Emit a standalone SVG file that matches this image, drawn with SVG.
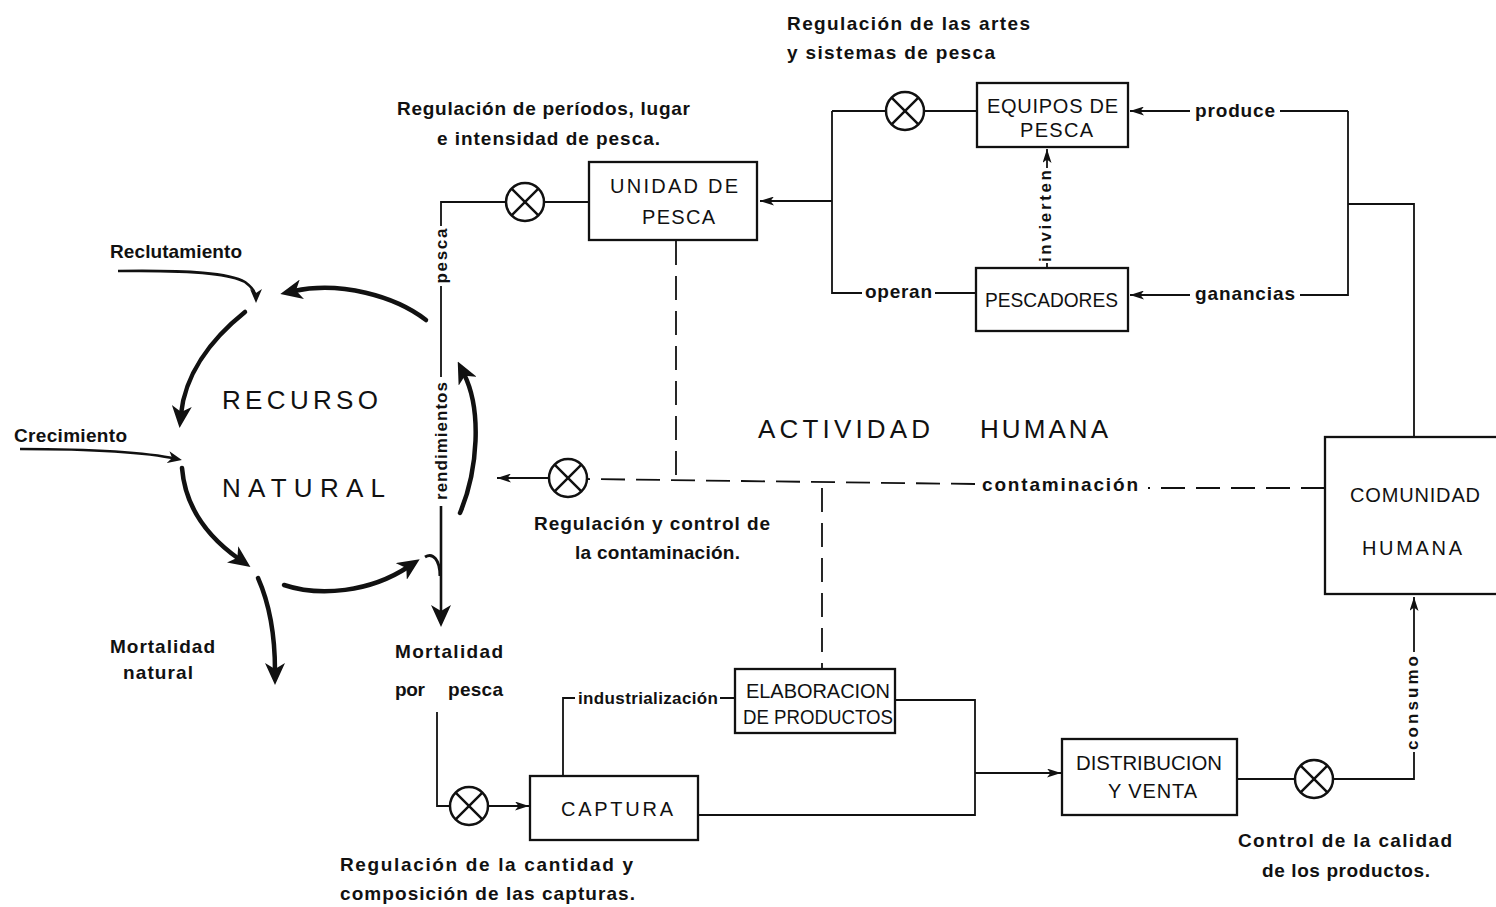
<svg xmlns="http://www.w3.org/2000/svg" width="1496" height="907" viewBox="0 0 1496 907">
  <style>
    .ln { fill: none; stroke: #111; stroke-width: 1.8; }
    .dash { fill: none; stroke: #111; stroke-width: 1.8; stroke-dasharray: 24 11; }
    .flow { fill: none; stroke: #111; stroke-width: 4.5; stroke-linecap: round; }
    .box { fill: #fff; stroke: #111; stroke-width: 2.3; }
    .lbl { font-family: "Liberation Sans", Arial, sans-serif; font-size: 19px; font-weight: bold; fill: #111; }
    .sm { font-family: "Liberation Sans", Arial, sans-serif; font-size: 17px; font-weight: bold; fill: #111; }
    .bt { font-family: "Liberation Sans", Arial, sans-serif; font-size: 20px; fill: #111; }
    .big { font-family: "Liberation Sans", Arial, sans-serif; font-size: 26px; fill: #111; }
  </style>
  <defs>
    <marker id="ah" viewBox="0 0 14 9" refX="14" refY="4.5" markerWidth="14" markerHeight="9" markerUnits="userSpaceOnUse" orient="auto">
      <path d="M0,0 L14,4.5 L0,9 L3.5,4.5 Z" fill="#111"/>
    </marker>
    <marker id="ahs" viewBox="0 0 14 12" refX="9" refY="6" markerWidth="14" markerHeight="12" markerUnits="userSpaceOnUse" orient="auto">
      <path d="M0,0 L14,6 L0,12 L4,6 Z" fill="#111"/>
    </marker>
    <marker id="big" viewBox="0 0 22 20" refX="8" refY="10" markerWidth="22" markerHeight="20" markerUnits="userSpaceOnUse" orient="auto">
      <path d="M0,0 L22,10 L0,20 L6,10 Z" fill="#111"/>
    </marker>
    <!-- regulation point: crossed circle -->
    <g id="mult">
      <circle r="19" fill="#fff" stroke="#111" stroke-width="2.5"/>
      <path d="M-13.4,-13.4 L13.4,13.4 M-13.4,13.4 L13.4,-13.4" stroke="#111" stroke-width="2.5"/>
    </g>
  </defs>

  <rect width="1496" height="907" fill="#fff"/>

  <!-- connectors -->
  <g id="connectors">
    <!-- fishing gear / fishermen loop -->
    <path class="ln" d="M832,111 L886,111 M924,111 L977,111"/>
    <path class="ln" d="M832,111 L832,293 L862,293 M935,293 L976,293"/>
    <path class="ln" d="M832,201 L760,201" marker-end="url(#ah)"/>
    <path class="ln" d="M1348,111 L1280,111"/>
    <path class="ln" d="M1190,111 L1130,111" marker-end="url(#ah)"/>
    <path class="ln" d="M1348,111 L1348,295 L1300,295"/>
    <path class="ln" d="M1190,295 L1130,295" marker-end="url(#ah)"/>
    <path class="ln" d="M1348,204 L1414,204 L1414,437"/>
    <path class="ln" d="M1047,268 L1047,263"/>
    <path class="ln" d="M1047,168 L1047,149" marker-end="url(#ah)"/>

    <!-- fishing unit to resource -->
    <path class="ln" d="M544,202 L589,202 M506,202 L441,202 L441,226"/>
    <path class="ln" d="M441,286 L441,377"/>
    <path class="ln" d="M441,506 L441,613" style="stroke-width:2.6" marker-end="url(#big)"/>
    <path class="ln" d="M425,557 C433,552 440,560 440,576" style="stroke-width:3"/>

    <!-- resource cycle -->
    <path class="flow" d="M426,320 C395,296 340,281 294,291" marker-end="url(#big)"/>
    <path class="flow" d="M245,312 C210,340 185,375 181,414" marker-end="url(#big)"/>
    <path class="flow" d="M182,468 C185,505 205,535 239,559" marker-end="url(#big)"/>
    <path class="flow" d="M284,585 C320,597 370,592 408,567" marker-end="url(#big)"/>
    <path class="flow" d="M258,578 C270,605 275,640 275,671" marker-end="url(#big)"/>
    <path class="flow" d="M460,513 C478,470 482,410 464,374" marker-end="url(#big)"/>
    <path class="ln" d="M118,271 C190,270 230,273 245,282 C253,288 256,294 256,298" style="stroke-width:2.6" marker-end="url(#ahs)"/>
    <path class="ln" d="M20,449 C90,449 145,452 177,459" style="stroke-width:2.6" marker-end="url(#ahs)"/>

    <!-- pollution -->
    <path class="dash" d="M1325,488 L1148,488"/>
    <path class="dash" d="M975,484 L587,479"/>
    <path class="ln" d="M549,478 L497,478" marker-end="url(#ah)"/>
    <path class="dash" d="M676,241 L676,479"/>
    <path class="dash" d="M822,488 L822,668"/>

    <!-- catch, processing, sale, consumption -->
    <path class="ln" d="M437,712 L437,806 L450,806"/>
    <path class="ln" d="M488,806 L529,806" marker-end="url(#ah)"/>
    <path class="ln" d="M563,776 L563,698 L575,698 M720,698 L735,698"/>
    <path class="ln" d="M895,700 L975,700 L975,815 L698,815"/>
    <path class="ln" d="M975,773 L1061,773" marker-end="url(#ah)"/>
    <path class="ln" d="M1237,779 L1295,779 M1333,779 L1414,779 L1414,752"/>
    <path class="ln" d="M1414,652 L1414,597" marker-end="url(#ah)"/>
  </g>

  <!-- regulation points -->
  <use href="#mult" x="905" y="111"/>
  <use href="#mult" x="525" y="202"/>
  <use href="#mult" x="568" y="478"/>
  <use href="#mult" x="469" y="806"/>
  <use href="#mult" x="1314" y="779"/>

  <!-- nodes -->
  <g id="unidad-pesca">
    <rect class="box" x="589" y="162" width="168" height="78"/>
    <text class="bt" x="610" y="193" textLength="128" lengthAdjust="spacing">UNIDAD DE</text>
    <text class="bt" x="642" y="224" textLength="73" lengthAdjust="spacing">PESCA</text>
  </g>
  <g id="equipos-pesca">
    <rect class="box" x="977" y="83" width="151" height="64"/>
    <text class="bt" x="987" y="113" textLength="131" lengthAdjust="spacing">EQUIPOS DE</text>
    <text class="bt" x="1020" y="137" textLength="73" lengthAdjust="spacing">PESCA</text>
  </g>
  <g id="pescadores">
    <rect class="box" x="976" y="268" width="152" height="63"/>
    <text class="bt" x="985" y="307" textLength="133" lengthAdjust="spacingAndGlyphs">PESCADORES</text>
  </g>
  <g id="comunidad-humana">
    <rect class="box" x="1325" y="437" width="180" height="157"/>
    <text class="bt" x="1350" y="502" textLength="130" lengthAdjust="spacing">COMUNIDAD</text>
    <text class="bt" x="1362" y="555" textLength="100" lengthAdjust="spacing">HUMANA</text>
  </g>
  <g id="elaboracion">
    <rect class="box" x="735" y="669" width="160" height="64"/>
    <text class="bt" x="746" y="698" textLength="144" lengthAdjust="spacing">ELABORACION</text>
    <text class="bt" x="743" y="724" textLength="150" lengthAdjust="spacingAndGlyphs">DE PRODUCTOS</text>
  </g>
  <g id="captura">
    <rect class="box" x="530" y="776" width="168" height="64"/>
    <text class="bt" x="561" y="816" textLength="112" lengthAdjust="spacing">CAPTURA</text>
  </g>
  <g id="distribucion">
    <rect class="box" x="1062" y="739" width="175" height="76"/>
    <text class="bt" x="1076" y="770" textLength="146" lengthAdjust="spacingAndGlyphs">DISTRIBUCION</text>
    <text class="bt" x="1108" y="798" textLength="89" lengthAdjust="spacing">Y VENTA</text>
  </g>
  <g id="recurso-natural">
    <text class="big" x="222" y="409" textLength="156" lengthAdjust="spacing">RECURSO</text>
    <text class="big" x="222" y="497" textLength="163" lengthAdjust="spacing">NATURAL</text>
  </g>
  <g id="actividad-humana">
    <text class="big" x="758" y="438" textLength="172" lengthAdjust="spacing">ACTIVIDAD</text>
    <text class="big" x="980" y="438" textLength="128" lengthAdjust="spacing">HUMANA</text>
  </g>

  <!-- labels -->
  <g id="labels">
    <text class="lbl" x="787" y="30" textLength="243" lengthAdjust="spacing">Regulación de las artes</text>
    <text class="lbl" x="787" y="59" textLength="208" lengthAdjust="spacing">y sistemas de pesca</text>
    <text class="lbl" x="397" y="115" textLength="293" lengthAdjust="spacing">Regulación de períodos, lugar</text>
    <text class="lbl" x="437" y="145" textLength="223" lengthAdjust="spacing">e intensidad de pesca.</text>
    <text class="lbl" x="1195" y="117" textLength="80" lengthAdjust="spacing">produce</text>
    <text class="lbl" x="1195" y="300" textLength="100" lengthAdjust="spacing">ganancias</text>
    <text class="lbl" x="865" y="298" textLength="67" lengthAdjust="spacing">operan</text>
    <text class="sm" transform="translate(1051,216) rotate(-90)" text-anchor="middle" textLength="92" lengthAdjust="spacing">invierten</text>
    <text class="sm" transform="translate(447,256) rotate(-90)" text-anchor="middle" textLength="55" lengthAdjust="spacing">pesca</text>
    <text class="sm" transform="translate(447,441) rotate(-90)" text-anchor="middle" textLength="118" lengthAdjust="spacing">rendimientos</text>
    <text class="sm" transform="translate(1418,703) rotate(-90)" text-anchor="middle" textLength="94" lengthAdjust="spacing">consumo</text>
    <text class="lbl" x="110" y="258" textLength="132" lengthAdjust="spacing">Reclutamiento</text>
    <text class="lbl" x="14" y="442" textLength="113" lengthAdjust="spacing">Crecimiento</text>
    <text class="lbl" x="110" y="653" textLength="105" lengthAdjust="spacing">Mortalidad</text>
    <text class="lbl" x="123" y="679" textLength="70" lengthAdjust="spacing">natural</text>
    <text class="lbl" x="395" y="658" textLength="108" lengthAdjust="spacing">Mortalidad</text>
    <text class="lbl" x="395" y="696" textLength="30" lengthAdjust="spacing">por</text>
    <text class="lbl" x="448" y="696" textLength="55" lengthAdjust="spacing">pesca</text>
    <text class="lbl" x="534" y="530" textLength="236" lengthAdjust="spacing">Regulación y control de</text>
    <text class="lbl" x="575" y="559" textLength="165" lengthAdjust="spacing">la contaminación.</text>
    <text class="lbl" x="982" y="491" textLength="156" lengthAdjust="spacing">contaminación</text>
    <text class="sm" x="578" y="704" textLength="140" lengthAdjust="spacing">industrialización</text>
    <text class="lbl" x="340" y="871" textLength="293" lengthAdjust="spacing">Regulación de la cantidad y</text>
    <text class="lbl" x="340" y="900" textLength="295" lengthAdjust="spacing">composición de las capturas.</text>
    <text class="lbl" x="1238" y="847" textLength="214" lengthAdjust="spacing">Control de la calidad</text>
    <text class="lbl" x="1262" y="877" textLength="168" lengthAdjust="spacing">de los productos.</text>
  </g>
</svg>
